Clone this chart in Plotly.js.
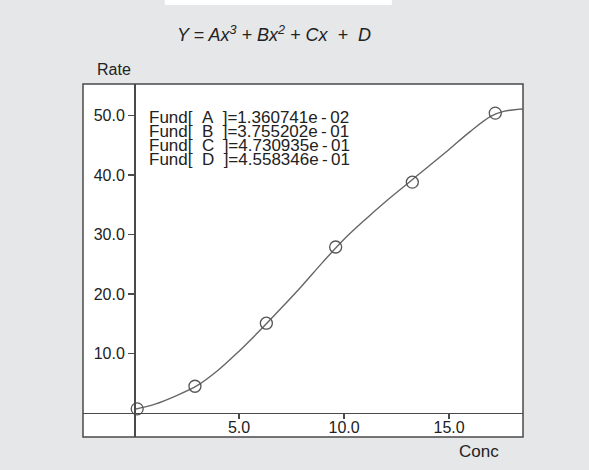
<!DOCTYPE html>
<html>
<head>
<meta charset="utf-8">
<script src="https://cdn.plot.ly/plotly-3.0.1.min.js"></script>
<style>html,body{margin:0;padding:0;background:#e6e7e8;}#chart{width:589px;height:470px;}</style>
</head>
<body>
<div id="chart"></div>
<script>
// Measured data points (Conc, Rate)
const concPoints = [0.15, 2.9, 6.3, 9.6, 13.25, 17.2];
const ratePoints = [0.7, 4.5, 15.1, 27.9, 38.8, 50.4];

// Fitted curve
const curveConc = [0, 1, 2, 3, 4, 5, 6, 7, 8, 9, 10, 11, 12, 13, 14, 15, 16, 17, 17.6, 18.5];
const curveRate = [0.6, 1.5, 2.9, 4.6, 7.2, 10.4, 13.9, 17.6, 21.4, 25.4, 29.2, 32.5, 35.6, 38.5, 41.4, 44.3, 47.3, 49.9, 50.7, 51.1];

const xTicks = [5, 10, 15];
const yTicks = [10, 20, 30, 40, 50];

const coefLabels = ["A", "B", "C", "D"];
const coefMantissa = ["1.360741", "3.755202", "4.730935", "4.558346"];
const coefExponent = ["02", "01", "01", "01"];

const FONT = "Liberation Sans, Arial, sans-serif";
const DARK = "#4a4a4a";

const traces = [
  {
    x: curveConc, y: curveRate, mode: "lines", type: "scatter",
    line: {color: "#666", width: 1.4, shape: "spline", smoothing: 1},
    hoverinfo: "skip", showlegend: false
  },
  {
    x: concPoints, y: ratePoints, mode: "markers", type: "scatter",
    marker: {symbol: "circle-open", size: 12, color: "#555", line: {width: 1.3, color: "#555"}},
    showlegend: false
  }
];

const annotations = coefLabels.map((c, i) => ({
  x: 0.146, xref: "paper", xanchor: "left",
  y: 0.904 - i * 0.0397, yref: "paper", yanchor: "middle",
  text: "Fund[\u00a0\u00a0" + c + "\u00a0\u00a0]=" + coefMantissa[i] + "e\u2009-\u2009" + coefExponent[i],
  showarrow: false, font: {family: FONT, size: 17, color: "#222"}
}));
annotations.push({
  x: 0.0705, xref: "paper", y: 1.04, yref: "paper",
  xanchor: "center", yanchor: "middle", text: "Rate", showarrow: false,
  font: {family: FONT, size: 16, color: "#222"}
});
annotations.push({
  x: 0.9, xref: "paper", y: -0.04, yref: "paper",
  xanchor: "center", yanchor: "middle", text: "Conc", showarrow: false,
  font: {family: FONT, size: 17, color: "#222"}
});

const layout = {
  width: 589, height: 470,
  paper_bgcolor: "#e6e7e8", plot_bgcolor: "#ffffff",
  margin: {l: 83, r: 66, t: 84, b: 33},
  title: {
    text: "<i>Y = Ax<sup>3</sup> + Bx<sup>2</sup> + Cx  +  D</i>",
    x: 274 / 589, xref: "container", xanchor: "center",
    y: 1 - 35 / 470, yref: "container", yanchor: "middle",
    font: {family: FONT, size: 18, color: "#222"}
  },
  xaxis: {
    range: [-2.43, 18.52], anchor: "free", position: 0.068,
    showgrid: false, zeroline: false,
    showline: true, linecolor: DARK, linewidth: 1.5,
    ticks: "outside", ticklen: 5, tickwidth: 1.3, tickcolor: DARK,
    tickvals: xTicks, tickformat: ".1f", ticklabelstandoff: -6,
    tickfont: {family: FONT, size: 16, color: "#222"}
  },
  yaxis: {
    range: [-4.03, 55.3], anchor: "free", position: 0.116,
    showgrid: false, zeroline: false,
    showline: true, linecolor: DARK, linewidth: 1.5,
    ticks: "outside", ticklen: 6, tickwidth: 1.3, tickcolor: DARK,
    tickvals: yTicks, tickformat: ".1f",
    tickfont: {family: FONT, size: 16, color: "#222"}
  },
  shapes: [
    {type: "rect", xref: "paper", yref: "paper", x0: 0, x1: 1, y0: 0, y1: 1,
     line: {color: DARK, width: 1.5}},
    {type: "rect", xref: "paper", yref: "paper", x0: 0.186, x1: 0.702, y0: 1.224, y1: 1.245,
     fillcolor: "#ffffff", line: {width: 0}}
  ],
  annotations: annotations,
  showlegend: false
};

Plotly.newPlot("chart", traces, layout, {displayModeBar: false, staticPlot: true});
</script>
</body>
</html>
